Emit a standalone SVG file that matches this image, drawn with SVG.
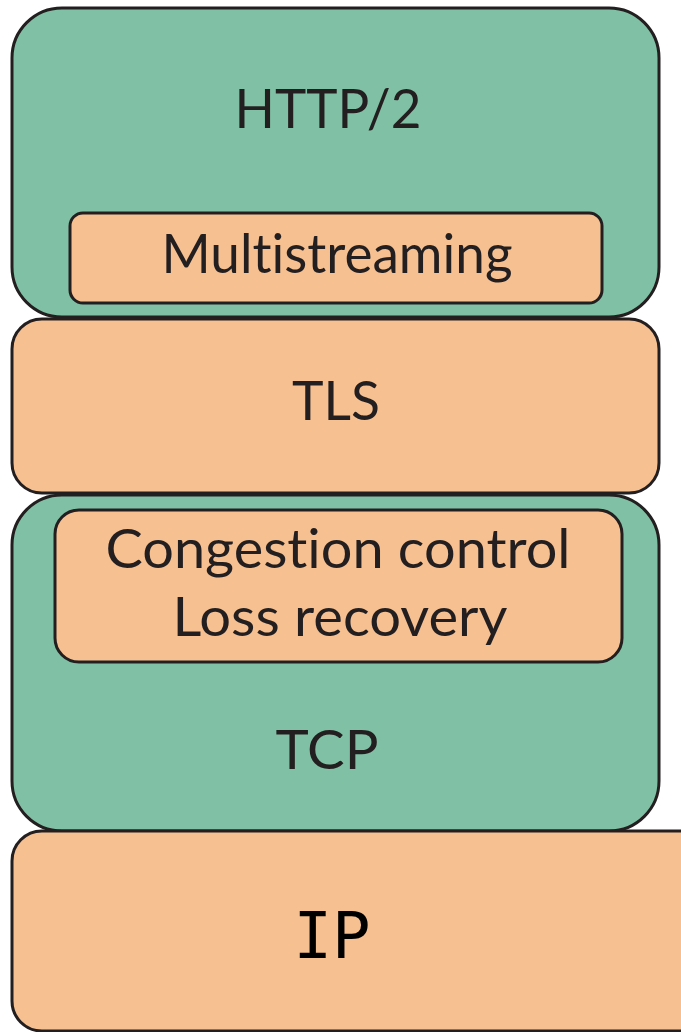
<svg xmlns="http://www.w3.org/2000/svg" width="681" height="1032" viewBox="0 0 681 1032">
<style>
.g{fill:#80c1a5;stroke:#231f20;stroke-width:3}
.o{fill:#f6c091;stroke:#231f20;stroke-width:3}
.t{font-family:Lato,"Open Sans","Liberation Sans",sans-serif;font-size:55px;fill:#231f20;text-anchor:middle;font-variant-ligatures:none;font-feature-settings:"liga" 0}
.m{font-family:"DejaVu Sans Mono","Liberation Mono",monospace;font-size:64px;fill:#000;text-anchor:middle}
</style>
<rect width="681" height="1032" fill="#fff"/>
<g id="http2">
<rect class="g" x="12" y="8" width="647" height="309" rx="50"/>
<text class="t" x="328" y="128" textLength="187" lengthAdjust="spacingAndGlyphs">HTTP/2</text>
</g>
<g id="multistreaming">
<rect class="o" x="70" y="213" width="532" height="90" rx="13"/>
<text class="t" x="337" y="273" textLength="351" lengthAdjust="spacingAndGlyphs">Multistreaming</text>
</g>
<g id="tls">
<rect class="o" x="12" y="319" width="647" height="174" rx="30"/>
<text class="t" x="336" y="420" textLength="88" lengthAdjust="spacingAndGlyphs">TLS</text>
</g>
<g id="tcp">
<rect class="g" x="12" y="495" width="647" height="336" rx="50"/>
<text class="t" x="327" y="769" textLength="103" lengthAdjust="spacingAndGlyphs">TCP</text>
</g>
<g id="congestion">
<rect class="o" x="55" y="510" width="567" height="152" rx="24"/>
<text class="t" x="338" y="568" textLength="465" lengthAdjust="spacingAndGlyphs">Congestion control</text>
<text class="t" x="340" y="636" textLength="335" lengthAdjust="spacingAndGlyphs">Loss recovery</text>
</g>
<g id="ip">
<rect class="o" x="12" y="831" width="700" height="200" rx="30"/>
<text class="m" x="332" y="958">IP</text>
</g>
<g id="connectors"/>
</svg>
